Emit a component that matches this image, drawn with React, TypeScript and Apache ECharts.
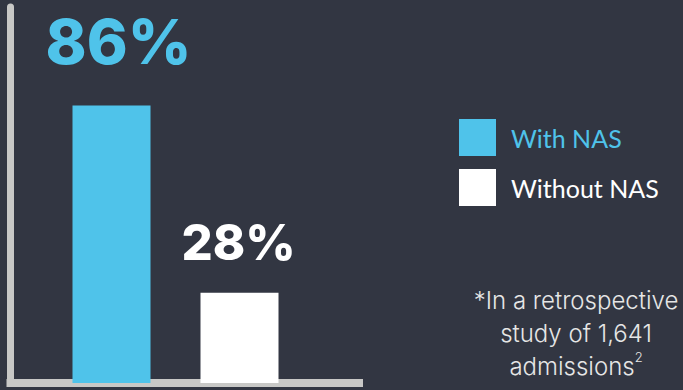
import React, { useEffect, useRef } from "react";
import * as echarts from "echarts";

const seriesNames = ["With NAS", "Without NAS"];
const seriesValues = [86, 28];
const seriesColors = ["#4fc3ea", "#ffffff"];
const categories = ["With NAS", "Without NAS"];
const footnoteLines = ["*In a retrospective", "study of 1,641", "admissions"];

export default function App() {
  const ref = useRef<HTMLDivElement>(null);
  useEffect(() => {
    if (!ref.current) return;
    const chart = echarts.init(ref.current, null, { renderer: "svg" });
    const labelSizes = [62, 49];
    const labelOffsets = [[7, 0], [-1, 0]];
    const labelDist = [33, 26];
    const frameColor = "#c8c8c6";
    chart.setOption({
      animation: false,
      backgroundColor: "#323642",
      grid: [
        { left: 47.5, right: 683 - 303.5, top: 7, bottom: 7 },
        { left: 10.5, right: 683 - 359, top: 7, bottom: 7 },
      ],
      xAxis: [
        {
          type: "category",
          gridIndex: 0,
          data: categories,
          axisLine: { show: false },
          axisTick: { show: false },
          axisLabel: { show: false },
        },
        {
          type: "value",
          gridIndex: 1,
          min: 0,
          max: 1,
          offset: 4,
          splitLine: { show: false },
          axisLine: { show: true, lineStyle: { color: frameColor, width: 8, cap: "square" } },
          axisTick: { show: false },
          axisLabel: { show: false },
        },
      ],
      yAxis: [
        {
          type: "value",
          gridIndex: 0,
          min: 0,
          max: 116.5,
          splitLine: { show: false },
          axisLine: { show: false },
          axisTick: { show: false },
          axisLabel: { show: false },
        },
        {
          type: "value",
          gridIndex: 1,
          min: 0,
          max: 1,
          splitLine: { show: false },
          axisLine: { show: true, lineStyle: { color: frameColor, width: 7 } },
          axisTick: { show: false },
          axisLabel: { show: false },
        },
      ],
      legend: {
        left: 454,
        top: 114,
        orient: "vertical",
        itemWidth: 37,
        itemHeight: 37,
        itemGap: 13,
        icon: "rect",
        textStyle: { fontFamily: "Lato", fontSize: 25, padding: [0, 0, 0, 10] },
        data: seriesNames.map((n, i) => ({
          name: n,
          textStyle: { color: i === 0 ? seriesColors[0] : "#ffffff" },
        })),
      },
      series: seriesNames.map((name, i) => ({
        name,
        type: "bar",
        xAxisIndex: 0,
        yAxisIndex: 0,
        stack: "total",
        barWidth: 78,
        itemStyle: { color: seriesColors[i] },
        label: {
          show: true,
          position: "top",
          distance: labelDist[i],
          offset: labelOffsets[i],
          formatter: "{c}%",
          color: seriesColors[i],
          fontFamily: "Inter",
          fontWeight: 800,
          fontSize: labelSizes[i],
        },
        data: categories.map((_, j) => (j === i ? seriesValues[i] : "-")),
      })),
      graphic: [
        {
          type: "text",
          x: 576,
          y: 284,
          style: {
            text:
              footnoteLines[0] + "\n" + footnoteLines[1] + "\n" + footnoteLines[2] + "{sup|2}",
            fill: "#e6e6e6",
            fontFamily: "Inter",
            fontWeight: 300,
            fontSize: 24,
            lineHeight: 33,
            align: "center",
            verticalAlign: "top",
            rich: {
              sup: { fontFamily: "Inter", fontWeight: 300, fontSize: 13, fill: "#e6e6e6", verticalAlign: "top", lineHeight: 33, padding: [0, 0, 12, 0] },
            },
          },
        },
      ],
    });
    return () => chart.dispose();
  }, []);
  return (
    <div
      ref={ref}
      style={{ position: "fixed", left: 0, top: 0, width: 683, height: 390 }}
    />
  );
}
